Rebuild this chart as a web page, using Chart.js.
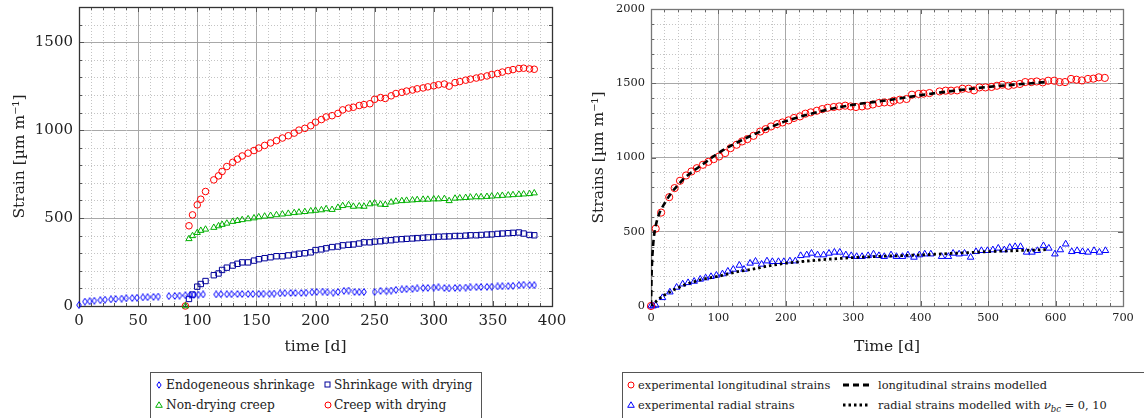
<!DOCTYPE html>
<html>
<head>
<meta charset="utf-8">
<script src="https://cdn.jsdelivr.net/npm/chart.js@4.4.1/dist/chart.umd.min.js"></script>
<style>
  body { margin: 0; background: #fff; }
  #wrap { position: relative; width: 1144px; height: 418px; overflow: hidden; font-family: "DejaVu Serif", serif; color: #222; }
  #left { position: absolute; left: 0; top: 0; }
  #right { position: absolute; left: 590px; top: 0; }
  .legend { position: absolute; top: 372px; height: 60px; border: 1px solid #555; background: #fff; }
  .legend svg { position: absolute; overflow: visible; }
  .legend span { position: absolute; white-space: nowrap; line-height: 16px; }
  #legL span { font-size: 12.2px; }
  #legR span { font-size: 11.4px; }
</style>
</head>
<body>
<div id="wrap">
  <canvas id="left" width="590" height="360"></canvas>
  <canvas id="right" width="554" height="360"></canvas>

  <div class="legend" id="legL" style="left:150px;width:330px;">
    <svg width="6" height="8" style="left:5px;top:8px"><path d="M3 0.8 L5.1 4 L3 7.2 L0.9 4Z" fill="none" stroke="#0000ff" stroke-width="1"/></svg>
    <span style="left:15px;top:4px">Endogeneous shrinkage</span>
    <svg width="7" height="7" style="left:173px;top:8px"><rect x="1" y="1" width="5" height="5" fill="none" stroke="#000099" stroke-width="1"/></svg>
    <span style="left:183px;top:4px">Shrinkage with drying</span>
    <svg width="8" height="7" style="left:4px;top:28px"><path d="M4 0.8 L7.3 6.3 L0.7 6.3Z" fill="none" stroke="#00b000" stroke-width="1"/></svg>
    <span style="left:15px;top:24px">Non-drying creep</span>
    <svg width="8" height="8" style="left:173px;top:28px"><circle cx="4" cy="4" r="3" fill="none" stroke="#ff0000" stroke-width="1"/></svg>
    <span style="left:183px;top:24px">Creep with drying</span>
  </div>

  <div class="legend" id="legR" style="left:622px;width:600px;">
    <svg width="8" height="8" style="left:4px;top:8px"><circle cx="4" cy="4" r="3" fill="none" stroke="#ff0000" stroke-width="1"/></svg>
    <span style="left:15px;top:4px">experimental longitudinal strains</span>
    <svg width="26" height="4" style="left:220px;top:10px"><line x1="0" y1="2" x2="26" y2="2" stroke="#000" stroke-width="3" stroke-dasharray="6 4"/></svg>
    <span style="left:255px;top:4px">longitudinal strains modelled</span>
    <svg width="8" height="7" style="left:4px;top:28px"><path d="M4 0.8 L7.3 6.3 L0.7 6.3Z" fill="none" stroke="#0000ff" stroke-width="1"/></svg>
    <span style="left:15px;top:24px">experimental radial strains</span>
    <svg width="26" height="4" style="left:220px;top:30px"><line x1="0" y1="2" x2="26" y2="2" stroke="#000" stroke-width="3" stroke-dasharray="2.5 3"/></svg>
    <span style="left:255px;top:24px">radial strains modelled with <i>ν</i><sub style="font-size:8.5px"><i>bc</i></sub> = 0, 10</span>
  </div>
</div>

<script>
// ---- axis ticks ----
const leftXTicks = [0, 50, 100, 150, 200, 250, 300, 350, 400];
const leftYTicks = [0, 500, 1000, 1500];
const rightXTicks = [0, 100, 200, 300, 400, 500, 600, 700];
const rightYTicks = [0, 500, 1000, 1500, 2000];

// ---- left chart data: strains [µm/m] vs time [d] ----
const endoDays = [0, 5, 9, 13, 18, 22, 27, 31, 36, 40, 45, 49, 54, 58, 63, 67, 76, 81, 85, 90,
  94, 97, 101, 105, 116, 120, 125, 129, 134, 138, 143, 147, 152, 156, 161, 165, 170, 174, 179, 183,
  188, 192, 197, 201, 206, 210, 215, 219, 224, 228, 233, 237, 241, 250, 255, 260, 264, 268, 273, 277,
  282, 286, 291, 295, 300, 304, 309, 313, 318, 322, 327, 331, 336, 340, 345, 349, 354, 358, 363, 367,
  372, 376, 381, 385];
const endoStrain = [5, 25, 27, 30, 33, 36, 38, 40, 42, 44, 45, 47, 49, 50, 52, 54, 56, 57, 59, 61,
  62, 64, 65, 66, 66, 67, 67, 67, 68, 68, 68, 68, 69, 70, 70, 71, 72, 73, 74, 74,
  74, 76, 78, 80, 82, 78, 76, 80, 86, 88, 80, 79, 80, 80, 86, 84, 88, 92, 94, 96,
  98, 100, 102, 103, 105, 106, 102, 100, 103, 104, 105, 106, 107, 108, 109, 110, 111, 112, 113, 115,
  118, 121, 119, 118];

const dryDays = [90, 93, 96, 100, 103, 107, 114, 118, 121, 125, 130, 134, 138, 143, 148, 152, 157, 162, 167, 172,
  177, 182, 186, 191, 196, 200, 205, 209, 214, 219, 223, 228, 232, 237, 241, 246, 250, 255, 259, 264,
  268, 273, 277, 282, 286, 291, 295, 300, 304, 309, 313, 318, 322, 327, 331, 336, 340, 345, 349, 354,
  358, 363, 367, 372, 376, 381, 385];
const dryShrink = [null, 40, 65, 110, 125, 142, 175, 185, 205, 218, 230, 240, 248, 248, 258, 266, 272, 277, 283, 283,
  288, 292, 297, 300, 305, 318, 322, 328, 335, 338, 345, 348, 350, 355, 362, 362, 366, 368, 372, 374,
  378, 380, 382, 384, 386, 388, 390, 392, 394, 395, 396, 398, 398, 400, 402, 402, 404, 406, 407, 410,
  412, 414, 416, 418, 412, 404, 402];
const nonDryCreep = [0, 382, 399, 417, 429, 436, 446, 455, 463, 470, 480, 485, 490, 495, 500, 506, 510, 514, 518, 522,
  526, 530, 533, 536, 540, 543, 546, 552, 548, 560, 570, 575, 566, 568, 566, 580, 585, 578, 576, 590,
  595, 598, 600, 602, 604, 606, 606, 608, 608, 610, 598, 612, 614, 616, 618, 620, 620, 622, 624, 626,
  628, 630, 632, 634, 636, 638, 642];
const dryCreep = [0, 456, 518, 575, 607, 651, 717, 740, 765, 793, 817, 835, 853, 869, 884, 898, 913, 927, 940, 955,
  968, 983, 1000, 1010, 1025, 1045, 1060, 1075, 1082, 1095, 1115, 1125, 1130, 1140, 1145, 1150, 1175, 1185, 1180, 1195,
  1208, 1215, 1222, 1228, 1235, 1240, 1246, 1252, 1258, 1262, 1250, 1270, 1276, 1284, 1290, 1296, 1302, 1308, 1316, 1322,
  1330, 1338, 1344, 1350, 1352, 1348, 1346];

// ---- right chart data ----
const longDays = [0, 7, 15, 27, 35, 43, 52, 60, 68, 77, 85, 93, 101, 110, 118, 127, 135, 143, 152, 162,
  170, 178, 187, 195, 204, 212, 221, 229, 237, 246, 254, 262, 271, 279, 288, 296, 304, 313, 321, 329,
  338, 346, 355, 360, 369, 379, 387, 397, 404, 413, 428, 437, 445, 454, 462, 471, 479, 487, 496, 505,
  513, 521, 530, 538, 547, 555, 564, 572, 581, 589, 598, 606, 614, 623, 631, 639, 648, 656, 664, 673];
const longStrain = [0, 521, 629, 733, 794, 843, 879, 906, 928, 951, 971, 989, 1007, 1030, 1063, 1086, 1108, 1124, 1146, 1175,
  1191, 1209, 1225, 1236, 1250, 1266, 1277, 1295, 1304, 1315, 1326, 1335, 1340, 1344, 1349, 1344, 1340, 1344, 1349, 1357,
  1367, 1371, 1371, 1382, 1389, 1394, 1423, 1428, 1430, 1434, 1445, 1450, 1450, 1452, 1463, 1463, 1452, 1472, 1472, 1475,
  1483, 1490, 1483, 1490, 1495, 1508, 1508, 1512, 1506, 1517, 1517, 1508, 1508, 1529, 1524, 1519, 1529, 1531, 1540, 1536];

const radDays = [0, 3, 7, 17, 28, 38, 47, 55, 64, 73, 81, 89, 97, 106, 114, 122, 131, 138, 147, 155,
  164, 172, 180, 189, 197, 206, 214, 222, 231, 238, 247, 256, 264, 272, 280, 289, 297, 305, 313, 322,
  330, 338, 346, 356, 364, 373, 381, 390, 398, 406, 415, 431, 441, 448, 457, 465, 474, 482, 490, 499,
  507, 515, 524, 532, 540, 548, 557, 565, 573, 582, 590, 599, 607, 615, 624, 632, 640, 648, 657, 665, 674];
const radStrain = [0, 0, 5, 56, 94, 126, 148, 157, 166, 180, 189, 198, 207, 216, 234, 247, 274, 247, 288, 301,
  281, 303, 299, 299, 299, 303, 303, 339, 344, 355, 344, 344, 355, 362, 362, 344, 339, 333, 333, 339,
  350, 339, 333, 344, 333, 333, 344, 328, 344, 350, 350, 333, 333, 355, 350, 355, 328, 366, 373, 373,
  378, 389, 378, 395, 400, 400, 362, 362, 373, 406, 389, 350, 378, 417, 366, 373, 366, 362, 373, 362, 373];

const longModelDays = [0, 1, 3, 5, 8, 12, 20, 30, 40, 50, 60, 80, 100, 125, 150, 175, 200, 250, 300, 350, 400, 450, 500, 550, 590];
const longModel = [0, 230, 400, 490, 560, 620, 690, 760, 815, 862, 900, 965, 1030, 1095, 1150, 1200, 1245, 1310, 1355, 1385, 1420, 1450, 1475, 1495, 1510];
const radModelDays = [0, 5, 10, 20, 30, 40, 50, 75, 100, 125, 150, 175, 200, 250, 300, 350, 400, 450, 500, 550, 590];
const radModel = [0, 20, 40, 74, 100, 122, 142, 178, 200, 228, 247, 270, 288, 310, 326, 336, 344, 355, 366, 374, 380];

// ---- helpers ----
const pts = (xs, ys) => xs.map((d, i) => ({ x: d, y: ys[i] }));
const serif = "'DejaVu Serif', serif";

function diamondImage(color) {
  const c = document.createElement('canvas');
  c.width = 6; c.height = 8;
  const g = c.getContext('2d');
  g.strokeStyle = color; g.lineWidth = 1;
  g.beginPath();
  g.moveTo(3, 0.6); g.lineTo(5.3, 4); g.lineTo(3, 7.4); g.lineTo(0.7, 4);
  g.closePath(); g.stroke();
  return c;
}

function markers(label, xs, ys, style, color, r) {
  return {
    label, data: pts(xs, ys), showLine: false, clip: false,
    pointStyle: style, pointRadius: r, pointBorderColor: color,
    pointBackgroundColor: 'rgba(0,0,0,0)', pointBorderWidth: 1
  };
}

function curve(label, xs, ys, dash, width) {
  return {
    label, data: pts(xs, ys), showLine: true, pointRadius: 0,
    borderColor: '#000', borderWidth: width, borderDash: dash,
    cubicInterpolationMode: 'monotone', borderCapStyle: 'butt'
  };
}

// dotted minor grid, inward ticks and the box round the plot
const frameGrid = {
  id: 'frameGrid',
  beforeDatasetsDraw(chart, args, o) {
    const { ctx, chartArea: a, scales: { x, y } } = chart;
    const px = v => Math.round(v) + 0.5;
    ctx.save();
    ctx.lineWidth = 1;
    ctx.strokeStyle = o.minorColor;
    ctx.setLineDash([1, 2]);
    ctx.beginPath();
    for (let v = x.min; v <= x.max; v += o.xMinor) {
      if (v % o.xMajor === 0) continue;
      const X = px(x.getPixelForValue(v));
      ctx.moveTo(X, a.top); ctx.lineTo(X, a.bottom);
    }
    for (let v = y.min; v <= y.max; v += o.yMinor) {
      if (v % o.yMajor === 0) continue;
      const Y = px(y.getPixelForValue(v));
      ctx.moveTo(a.left, Y); ctx.lineTo(a.right, Y);
    }
    ctx.stroke();
    ctx.setLineDash([]);

    ctx.strokeStyle = o.tickColor;
    ctx.beginPath();
    for (let v = x.min; v <= x.max; v += o.xMinor) {
      const X = px(x.getPixelForValue(v));
      const len = v % o.xMajor === 0 ? o.majorLen : o.minorLen;
      ctx.moveTo(X, a.bottom); ctx.lineTo(X, a.bottom - len);
      ctx.moveTo(X, a.top); ctx.lineTo(X, a.top + len);
    }
    for (let v = y.min; v <= y.max; v += o.yMinor) {
      const Y = px(y.getPixelForValue(v));
      const len = v % o.yMajor === 0 ? o.majorLen : o.minorLen;
      ctx.moveTo(a.left, Y); ctx.lineTo(a.left + len, Y);
      ctx.moveTo(a.right, Y); ctx.lineTo(a.right - len, Y);
    }
    ctx.stroke();

    ctx.strokeStyle = o.frameColor;
    ctx.lineWidth = o.frameWidth;
    const l = Math.round(a.left), t = Math.round(a.top);
    ctx.strokeRect(l + 0.5, t + 0.5, Math.round(a.right) - l, Math.round(a.bottom) - t);
    ctx.restore();
  }
};

// fixed axis boxes so the plot areas land where the picture has them
const fixHeight = h => s => { s.height = h; s.paddingLeft = 0; s.paddingRight = 0; };
const fixWidth = w => s => { s.width = w; s.paddingTop = 0; s.paddingBottom = 0; };

function axisOptions(o) {
  return {
    type: 'linear', min: o.min, max: o.max,
    afterFit: o.fit,
    afterBuildTicks: s => { s.ticks = o.ticks.map(v => ({ value: v })); },
    ticks: { padding: o.pad, color: '#222', font: { family: serif, size: o.tickSize },
      callback: v => String(v) },
    grid: { color: '#a8a8a8', lineWidth: 1, drawTicks: false },
    border: { display: false },
    title: { display: true, text: o.title, color: '#222', padding: o.titlePad, font: { family: serif, size: o.titleSize, weight: 'normal' } }
  };
}

// ---- left chart ----
new Chart(document.getElementById('left'), {
  type: 'scatter',
  data: {
    datasets: [
      markers('Endogeneous shrinkage', endoDays, endoStrain, diamondImage('#0000ff'), '#0000ff', 3),
      markers('Shrinkage with drying', dryDays, dryShrink, 'rect', '#000099', 3.8),
      markers('Non-drying creep', dryDays, nonDryCreep, 'triangle', '#00b000', 3.6),
      markers('Creep with drying', dryDays, dryCreep, 'circle', '#ff0000', 3.3)
    ]
  },
  options: {
    responsive: false, animation: false,
    layout: { padding: { top: 7, right: 38, bottom: 0, left: 0 } },
    plugins: {
      legend: { display: false }, tooltip: { enabled: false },
      frameGrid: { xMinor: 10, xMajor: 50, yMinor: 100, yMajor: 500, minorLen: 3, majorLen: 5,
        minorColor: '#c4c4c4', tickColor: '#555', frameColor: '#333', frameWidth: 1.3 }
    },
    scales: {
      x: axisOptions({ min: 0, max: 400, ticks: leftXTicks, pad: 6, tickSize: 15, title: 'time [d]', titleSize: 15.5,
        titlePad: { top: 4, bottom: 4 }, fit: fixHeight(54) }),
      y: axisOptions({ min: 0, max: 1700, ticks: leftYTicks, pad: 6, tickSize: 15, title: 'Strain [µm m⁻¹]', titleSize: 15.5,
        titlePad: { top: 11, bottom: 11 }, fit: fixWidth(79) })
    }
  },
  plugins: [frameGrid]
});

// ---- right chart ----
new Chart(document.getElementById('right'), {
  type: 'scatter',
  data: {
    datasets: [
      curve('longitudinal strains modelled', longModelDays, longModel, [6, 4], 2.6),
      curve('radial strains modelled', radModelDays, radModel, [2.5, 3], 2.8),
      markers('experimental longitudinal strains', longDays, longStrain, 'circle', '#ff0000', 3.6),
      markers('experimental radial strains', radDays, radStrain, 'triangle', '#0000ff', 3.8)
    ]
  },
  options: {
    responsive: false, animation: false,
    layout: { padding: { top: 9, right: 21, bottom: 0, left: 0 } },
    plugins: {
      legend: { display: false }, tooltip: { enabled: false },
      frameGrid: { xMinor: 20, xMajor: 100, yMinor: 100, yMajor: 500, minorLen: 3, majorLen: 5,
        minorColor: '#c4c4c4', tickColor: '#666', frameColor: '#777', frameWidth: 1.3 }
    },
    scales: {
      x: axisOptions({ min: 0, max: 700, ticks: rightXTicks, pad: 5, tickSize: 11.4, title: 'Time [d]', titleSize: 15.5,
        titlePad: { top: 4, bottom: 4 }, fit: fixHeight(54) }),
      y: axisOptions({ min: 0, max: 2000, ticks: rightYTicks, pad: 6, tickSize: 11.4, title: 'Strains [µm m⁻¹]', titleSize: 15.5,
        titlePad: { top: 0, bottom: 0 }, fit: fixWidth(61) })
    }
  },
  plugins: [frameGrid]
});
</script>
</body>
</html>
